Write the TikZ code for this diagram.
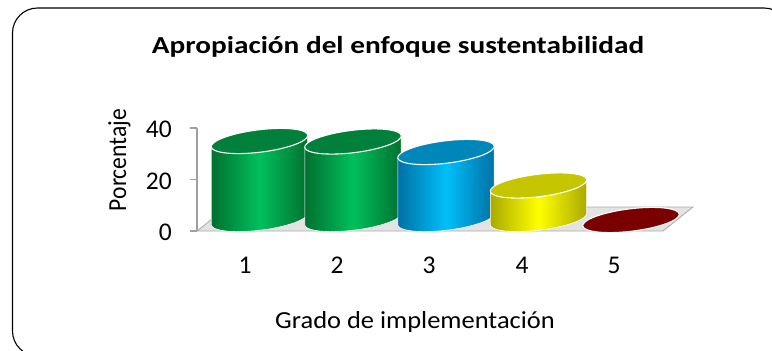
\documentclass[tikz,border=0pt]{standalone}
\usepackage{fontspec}
\setmainfont{Carlito}
\definecolor{gL}{RGB}{0,192,92}
\definecolor{gD}{RGB}{0,112,48}
\definecolor{gT}{RGB}{0,128,58}
\definecolor{bL}{RGB}{0,192,250}
\definecolor{bD}{RGB}{0,112,165}
\definecolor{bT}{RGB}{0,135,185}
\definecolor{yL}{RGB}{255,255,0}
\definecolor{yD}{RGB}{170,170,0}
\definecolor{yT}{RGB}{198,198,0}
\definecolor{rT}{RGB}{122,0,0}
\def\ea{48.5}
\def\eb{11.2}
\def\eth{7}
\def\ybot{219}
% point on a tilted ellipse: centre x, centre y, parameter
\newcommand\ept[3]{({#1+\ea*cos(\eth)*cos(#3)+\eb*sin(\eth)*sin(#3)},{#2-\ea*sin(\eth)*cos(#3)+\eb*cos(\eth)*sin(#3)})}
\newcommand\topell[3]{%
  \filldraw[fill=#3, draw=white, line width=1.1pt]
    plot[domain=0:355, samples=72, variable=\t] ({#1+\ea*cos(\eth)*cos(\t)+\eb*sin(\eth)*sin(\t)},{#2-\ea*sin(\eth)*cos(\t)+\eb*cos(\eth)*sin(\t)}) -- cycle;}
\newcommand\cylbar[5]{%
  \shade[left color=#4, right color=#4, middle color=#3, draw=white, line width=0.6pt]
    plot[domain=1.6:181.6, samples=40, variable=\t] ({#1+\ea*cos(\eth)*cos(\t)+\eb*sin(\eth)*sin(\t)},{\ybot-\ea*sin(\eth)*cos(\t)+\eb*cos(\eth)*sin(\t)})
    -- \ept{#1}{#2}{181.6} -- \ept{#1}{#2}{1.6} -- cycle;
  \topell{#1}{#2}{#5}}
\tikzset{
  axlab/.style={font=\fontsize{25.5}{30}\selectfont, text=black, inner sep=0pt},
  axline/.style={draw=gray!75, line width=1.4pt}
}
\begin{document}
\begin{tikzpicture}[x=1pt,y=-1pt]
\useasboundingbox (0,0) rectangle (772,351);
\clip (0,0) rectangle (772,351);
\draw[line width=1.1pt, rounded corners=25pt] (12.5,8) rectangle (789,356);
\node[font=\bfseries\fontsize{24.4}{30}\selectfont, anchor=base, inner sep=0pt, xscale=1.2] (title) at (398,53.5) {Apropiación del enfoque sustentabilidad};
% floor
\filldraw[fill=gray!22, draw=gray!65, line width=0.8pt] (197,231) -- (663,231) -- (693,207) -- (227,207) -- cycle;
% axis
\coordinate (a0) at (197,231);
\coordinate (a40) at (197,128);
\draw[axline] (a40) -- (a0);
\draw[axline] (190,128) -- (a40);
\draw[axline] (190,179.5) -- (197,179.5);
\draw[axline] (190,231) -- (a0);
\node[axlab, anchor=base east] (t40) at (172,137.3) {40};
\node[axlab, anchor=base east] (t20) at (172,189) {20};
\node[axlab, anchor=base east] (t0) at (172,240) {0};
\node[axlab, font=\fontsize{23.6}{28}\selectfont, anchor=base, rotate=90, yscale=1.1] (ytitle) at (126,160) {Porcentaje};
% bars
\cylbar{259.5}{141}{gL}{gD}{gT}
\cylbar{353}{141.5}{gL}{gD}{gT}
\cylbar{446}{152}{bL}{bD}{bT}
\cylbar{538.5}{185.5}{yL}{yD}{yT}
\topell{631}{220}{rT}
% categories
\node[axlab, anchor=base] (c1) at (245,273) {1};
\node[axlab, anchor=base] (c2) at (337,273) {2};
\node[axlab, anchor=base] (c3) at (429,273) {3};
\node[axlab, anchor=base] (c4) at (522,273) {4};
\node[axlab, anchor=base] (c5) at (614,273) {5};
\node[axlab, font=\fontsize{24.5}{30}\selectfont, anchor=base, xscale=1.08] (xtitle) at (415,328.5) {Grado de implementación};
\end{tikzpicture}
\end{document}
